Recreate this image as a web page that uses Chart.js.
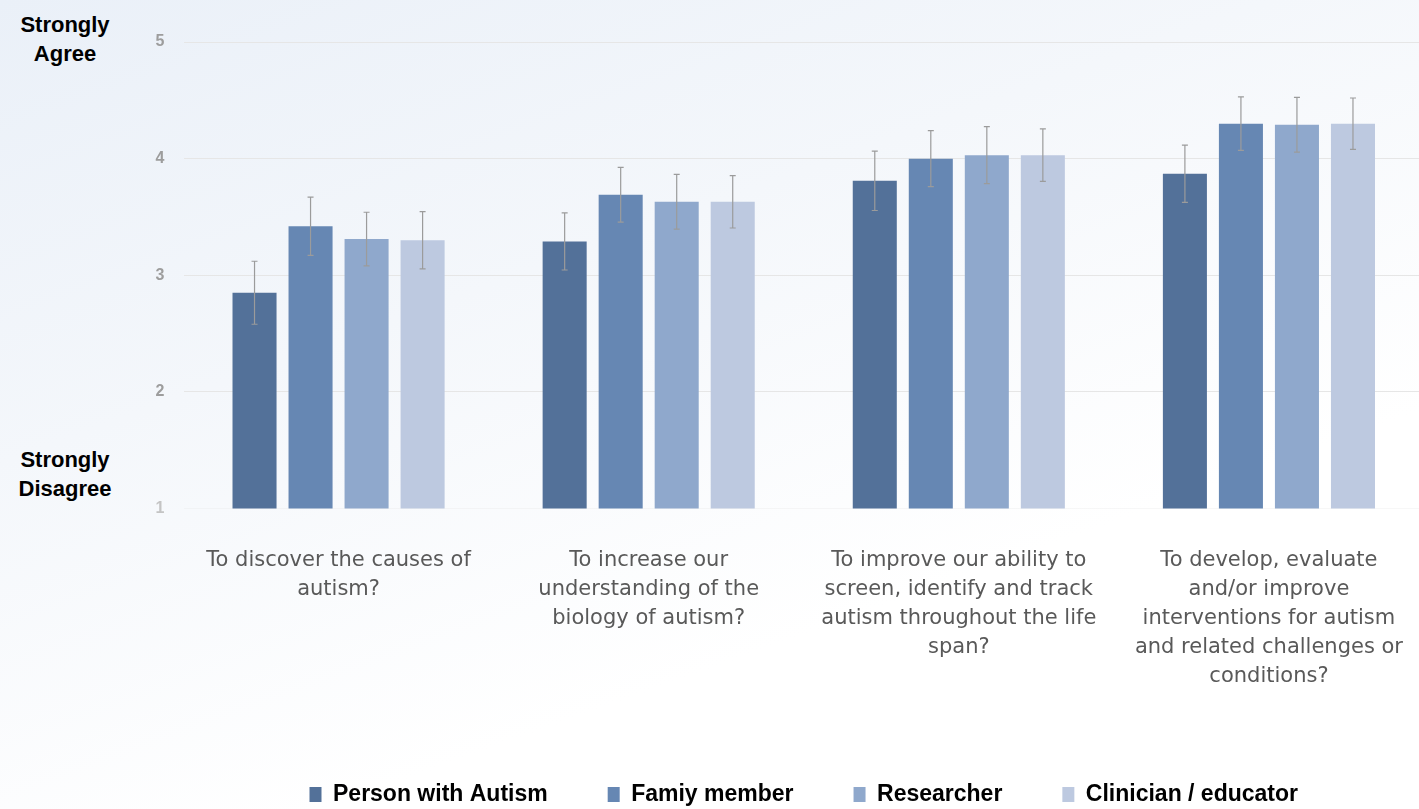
<!DOCTYPE html>
<html>
<head>
<meta charset="utf-8">
<script src="https://cdn.jsdelivr.net/npm/chart.js@4"></script>
<style>
  html, body { margin: 0; padding: 0; overflow: hidden; }
  body {
    width: 1419px; height: 809px; position: relative;
    background: linear-gradient(160deg, #eaf0f8 0%, #f4f7fb 35%, #ffffff 70%);
  }
  #wrap { position: absolute; left: 0; top: 0; width: 1424px; height: 816px; }
  .side {
    position: absolute; width: 130px; text-align: center;
    font: bold 22px "Liberation Sans", Arial, sans-serif; line-height: 29px; color: #000;
  }
</style>
</head>
<body>
<div class="side" style="left:0; top:10px;">Strongly<br>Agree</div>
<div class="side" style="left:0; top:445px;">Strongly<br>Disagree</div>
<div id="wrap"><canvas id="myChart"></canvas></div>
<script>
// categorie (domande)
const questions = [
    ['To discover the causes of', 'autism?'],
    ['To increase our', 'understanding of the', 'biology of autism?'],
    ['To improve our ability to', 'screen, identify and track', 'autism throughout the life', 'span?'],
    ['To develop, evaluate', 'and/or improve', 'interventions for autism', 'and related challenges or', 'conditions?']
];

// serie
const seriesNames = ['Person with Autism', 'Famiy member', 'Researcher', 'Clinician / educator'];
const seriesColors = ['#537199', '#6687b3', '#8fa8cc', '#bdc9e0'];

const personWithAutism = [2.85, 3.29, 3.81, 3.87];
const familyMember     = [3.42, 3.69, 4.00, 4.30];
const researcher       = [3.31, 3.63, 4.03, 4.29];
const clinician        = [3.30, 3.63, 4.03, 4.30];

// errori (+/-)
const errPerson     = [0.27, 0.245, 0.255, 0.245];
const errFamily     = [0.25, 0.235, 0.24, 0.23];
const errResearcher = [0.23, 0.235, 0.245, 0.235];
const errClinician  = [0.245, 0.225, 0.225, 0.22];

const yTicks = [1, 2, 3, 4, 5];

const values = [personWithAutism, familyMember, researcher, clinician];
const errors = [errPerson, errFamily, errResearcher, errClinician];

// plugin per le barre di errore
const errorBars = {
    id: 'errorBars',
    afterDatasetsDraw(chart) {
        const ctx = chart.ctx;
        const y = chart.scales.y;
        ctx.save();
        ctx.strokeStyle = '#9b9b9b';
        ctx.lineWidth = 1.2;
        chart.data.datasets.forEach((ds, d) => {
            chart.getDatasetMeta(d).data.forEach((bar, i) => {
                const top = y.getPixelForValue(ds.data[i] + ds.errors[i]);
                const bottom = y.getPixelForValue(ds.data[i] - ds.errors[i]);
                ctx.beginPath();
                ctx.moveTo(bar.x, top);
                ctx.lineTo(bar.x, bottom);
                ctx.moveTo(bar.x - 3, top);
                ctx.lineTo(bar.x + 3, top);
                ctx.moveTo(bar.x - 3, bottom);
                ctx.lineTo(bar.x + 3, bottom);
                ctx.stroke();
            });
        });
        ctx.restore();
    }
};

const ctx = document.getElementById('myChart').getContext('2d');
const myChart = new Chart(ctx, {
    type: 'bar',
    data: {
        labels: questions,
        datasets: seriesNames.map((name, i) => ({
            label: name,
            data: values[i],
            errors: errors[i],
            backgroundColor: seriesColors[i],
            categoryPercentage: 0.7226,
            barPercentage: 0.786
        }))
    },
    options: {
        responsive: true,
        maintainAspectRatio: false,
        animation: false,
        layout: { padding: { top: 42, right: 0, bottom: 0, left: 0 } },
        scales: {
            x: {
                grid: { display: false, drawTicks: false },
                border: { display: false },
                ticks: {
                    autoSkip: false,
                    maxRotation: 0,
                    padding: 38,
                    color: '#595959',
                    font: { family: 'DejaVu Sans', size: 21, lineHeight: 29 / 21 }
                },
                afterFit: s => {
                    s.height = 214.5;
                    s.paddingLeft = 0;
                    s.paddingRight = 0;
                }
            },
            y: {
                min: 1,
                max: 5,
                afterBuildTicks: s => { s.ticks = yTicks.map(v => ({ value: v })); },
                grid: {
                    drawTicks: false,
                    color: c => c.tick && c.tick.value === 1 ? 'rgba(230,230,230,0.3)' : '#e6e6e6'
                },
                border: { display: false },
                ticks: {
                    padding: 19,
                    color: c => c.tick && c.tick.value === 1 ? '#c4c4c4' : '#9d9d9d',
                    font: { family: 'Liberation Sans', size: 16, weight: 'bold' }
                },
                afterFit: s => { s.width = 183.5; }
            }
        },
        plugins: {
            legend: {
                position: 'bottom',
                fullSize: false,
                labels: {
                    boxWidth: 12,
                    boxHeight: 15,
                    padding: 60,
                    color: '#000',
                    font: { family: 'Liberation Sans', size: 23, weight: 'bold' }
                }
            },
            tooltip: { enabled: false }
        }
    },
    plugins: [errorBars]
});
</script>
</body>
</html>
